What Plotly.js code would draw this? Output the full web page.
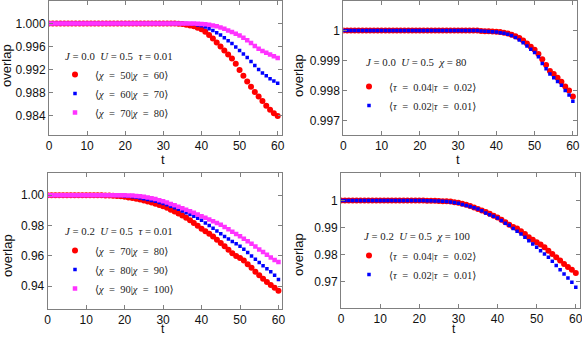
<!DOCTYPE html>
<html>
<head>
<meta charset="utf-8">
<script src="https://cdn.plot.ly/plotly-3.0.1.min.js"></script>
<style>
  html, body { margin: 0; padding: 0; background: #fff; }
  #chart { width: 582px; height: 337px; }
</style>
</head>
<body>
<div id="chart"></div>
<script>
// time steps
const t = [0, 1, 2, 3, 4, 5, 6, 7, 8, 9, 10, 11, 12, 13, 14, 15, 16, 17, 18, 19, 20,
  21, 22, 23, 24, 25, 26, 27, 28, 29, 30, 31, 32, 33, 34, 35, 36, 37, 38, 39, 40,
  41, 42, 43, 44, 45, 46, 47, 48, 49, 50, 51, 52, 53, 54, 55, 56, 57, 58, 59, 60];

// panel 1: J=0.0 U=0.5 tau=0.01
const p1Chi50 = [1, 1, 1, 1, 1, 1, 1, 1, 1, 1, 1, 1, 1, 1, 1, 1, 1, 1, 1, 1, 1,
  1, 1, 1, 1, 1, 1, 1, 1, 1, 1, 1, 1, 1, 0.99995, 0.9999, 0.9998, 0.99965, 0.9995, 0.99925, 0.9990,
  0.99855, 0.9980, 0.9974, 0.9967, 0.9960, 0.9953, 0.9946, 0.9939, 0.9930, 0.9919,
  0.9909, 0.9899, 0.9890, 0.9881, 0.9873, 0.9865, 0.9857, 0.9850, 0.9844, 0.9839];
const p1Chi60 = [1, 1, 1, 1, 1, 1, 1, 1, 1, 1, 1, 1, 1, 1, 1, 1, 1, 1, 1, 1, 1,
  1, 1, 1, 1, 1, 1, 1, 1, 1, 1, 1, 1, 1, 1, 1, 1, 0.99995, 0.9999, 0.99975, 0.9996,
  0.9994, 0.9991, 0.9988, 0.9984, 0.9980, 0.9975, 0.9970, 0.9965, 0.9959, 0.9953,
  0.9947, 0.9941, 0.9934, 0.9927, 0.9920, 0.9914, 0.9909, 0.9904, 0.9900, 0.9896];
const p1Chi70 = [1, 1, 1, 1, 1, 1, 1, 1, 1, 1, 1, 1, 1, 1, 1, 1, 1, 1, 1, 1, 1,
  1, 1, 1, 1, 1, 1, 1, 1, 1, 1, 1, 1, 1, 1, 1, 1, 1, 1, 0.99995, 0.9999,
  0.99985, 0.9998, 0.99965, 0.9995, 0.9993, 0.9991, 0.9988, 0.9985, 0.9982, 0.9979,
  0.9975, 0.9971, 0.9966, 0.9961, 0.9956, 0.9952, 0.9949, 0.9946, 0.9943, 0.9940];

// panel 2: J=0.0 U=0.5 chi=80
const p2Tau04 = [1, 1, 1, 1, 1, 1, 1, 1, 1, 1, 1, 1, 1, 1, 1, 1, 1, 1, 1, 1, 1,
  1, 1, 1, 1, 1, 1, 1, 1, 1, 1, 1, 1, 1, 1, 1, 0.99999, 0.99998, 0.99998, 0.99997, 0.99996,
  0.99995, 0.99993, 0.9999, 0.99986, 0.99981, 0.99975, 0.99967, 0.99957, 0.99946, 0.99936,
  0.99922, 0.99905, 0.99886, 0.99866, 0.99856, 0.99843, 0.9983, 0.99814, 0.99801, 0.99781];
const p2Tau02 = [1, 1, 1, 1, 1, 1, 1, 1, 1, 1, 1, 1, 1, 1, 1, 1, 1, 1, 1, 1, 1,
  1, 1, 1, 1, 1, 1, 1, 1, 1, 1, 1, 1, 1, 1, 1, 0.99999, 0.99998, 0.99997, 0.99996, 0.99995,
  0.99993, 0.99991, 0.99988, 0.99984, 0.99977, 0.99969, 0.9996, 0.99949, 0.99938, 0.99927,
  0.99913, 0.99891, 0.99873, 0.99856, 0.99843, 0.99831, 0.99818, 0.99801, 0.99786, 0.99765];

// panel 3: J=0.2 U=0.5 tau=0.01
const p3Chi70 = [1, 1, 1, 1, 1, 1, 1, 1, 1, 1, 1, 1, 1, 1, 1, 0.9999, 0.9998, 0.9997, 0.9995, 0.9993, 0.9990,
  0.9986, 0.9982, 0.9977, 0.9972, 0.9966, 0.9959, 0.9952, 0.9944, 0.9936, 0.9928,
  0.9917, 0.9904, 0.9893, 0.9880, 0.9866, 0.9852, 0.9836, 0.9818, 0.9799, 0.9780,
  0.9763, 0.9746, 0.9729, 0.9707, 0.9686, 0.9664, 0.9640, 0.9617, 0.9600, 0.9587,
  0.9570, 0.9545, 0.9522, 0.9495, 0.9472, 0.9450, 0.9428, 0.9408, 0.9390, 0.9371];
const p3Chi80 = [1, 1, 1, 1, 1, 1, 1, 1, 1, 1, 1, 1, 1, 1, 1, 1, 1, 1, 0.9999, 0.9998, 0.9996,
  0.9994, 0.9991, 0.9987, 0.9982, 0.9977, 0.9972, 0.9966, 0.9960, 0.9953, 0.9946,
  0.9937, 0.9928, 0.9918, 0.9908, 0.9897, 0.9885, 0.9873, 0.9861, 0.9848, 0.9835,
  0.9818, 0.9801, 0.9783, 0.9765, 0.9746, 0.9729, 0.9712, 0.9696, 0.9680, 0.9664,
  0.9644, 0.9622, 0.9600, 0.9578, 0.9556, 0.9535, 0.9515, 0.9495, 0.9472, 0.9444];
const p3Chi90 = [1, 1, 1, 1, 1, 1, 1, 1, 1, 1, 1, 1, 1, 1, 1, 1, 1, 1, 1, 1, 1,
  0.9999, 0.9998, 0.9996, 0.9993, 0.9990, 0.9986, 0.9981, 0.9975, 0.9968, 0.9960,
  0.9952, 0.9943, 0.9934, 0.9924, 0.9914, 0.9904, 0.9894, 0.9884, 0.9873, 0.9862,
  0.9852, 0.9841, 0.9829, 0.9818, 0.9806, 0.9791, 0.9776, 0.9760, 0.9745, 0.9730,
  0.9714, 0.9697, 0.9680, 0.9662, 0.9643, 0.9626, 0.9608, 0.9590, 0.9574, 0.9560];

// panel 4: J=0.2 U=0.5 chi=100
const p4Tau04 = [1, 1, 1, 1, 1, 1, 1, 1, 1, 1, 1, 1, 1, 1, 1, 1, 1, 0.99999, 0.99998, 0.99997, 0.99995,
  0.99993, 0.9999, 0.99987, 0.99983, 0.99978, 0.99972, 0.99965, 0.99955, 0.99935, 0.9991,
  0.9988, 0.9984, 0.9979, 0.9974, 0.9968, 0.9963, 0.9957, 0.9951, 0.9943, 0.9937,
  0.9929, 0.9919, 0.9910, 0.9902, 0.9896, 0.9886, 0.9876, 0.9864, 0.9855, 0.9846,
  0.9837, 0.9827, 0.9814, 0.9802, 0.9790, 0.9778, 0.9765, 0.9754, 0.9744, 0.9732];
const p4Tau02 = [1, 1, 1, 1, 1, 1, 1, 1, 1, 1, 1, 1, 1, 1, 1, 1, 1, 0.99999, 0.99998, 0.99996, 0.99994,
  0.99991, 0.99988, 0.99984, 0.99979, 0.99973, 0.99965, 0.99955, 0.9994, 0.9992, 0.9989,
  0.9985, 0.9981, 0.9977, 0.9973, 0.9968, 0.9962, 0.9953, 0.9947, 0.9941, 0.9935,
  0.9926, 0.9916, 0.9908, 0.9896, 0.9886, 0.9876, 0.9864, 0.9851, 0.9839, 0.9827,
  0.9814, 0.9802, 0.9790, 0.9775, 0.9760, 0.9744, 0.9728, 0.9714, 0.9698, 0.9680];

const RED = "#ff0000", BLUE = "#0000ff", MAGENTA = "#ff33ff";
const W = 582, H = 337;
const eq = "\u2002=\u2002";

function pts(y, name, color, symbol, size, xa, ya, legend) {
    return {
        x: t, y: y, name: name, type: "scatter", mode: "markers",
        xaxis: xa, yaxis: ya, legend: legend,
        marker: { color: color, symbol: symbol, size: size }
    };
}
function chiName(a, b) { return "⟨<i>χ</i>" + eq + a + "|<i>χ</i>" + eq + b + "⟩"; }
function tauName(a, b) { return "⟨<i>τ</i>" + eq + a + "|<i>τ</i>" + eq + b + "⟩"; }

const data = [
    pts(p1Chi50, chiName(50, 60), RED, "circle", 6, "x", "y", "legend"),
    pts(p1Chi60, chiName(60, 70), BLUE, "square", 3.5, "x", "y", "legend"),
    pts(p1Chi70, chiName(70, 80), MAGENTA, "square", 4.5, "x", "y", "legend"),
    pts(p2Tau04, tauName("0.04", "0.02"), RED, "circle", 6, "x2", "y2", "legend2"),
    pts(p2Tau02, tauName("0.02", "0.01"), BLUE, "square", 3.5, "x2", "y2", "legend2"),
    pts(p3Chi70, chiName(70, 80), RED, "circle", 6, "x3", "y3", "legend3"),
    pts(p3Chi80, chiName(80, 90), BLUE, "square", 3.5, "x3", "y3", "legend3"),
    pts(p3Chi90, chiName(90, 100), MAGENTA, "square", 4.5, "x3", "y3", "legend3"),
    pts(p4Tau04, tauName("0.04", "0.02"), RED, "circle", 6, "x4", "y4", "legend4"),
    pts(p4Tau02, tauName("0.02", "0.01"), BLUE, "square", 3.5, "x4", "y4", "legend4")
];

const tickFont = { family: "Liberation Sans, Arial, sans-serif", size: 12, color: "#111" };
const legFont = { family: "Liberation Serif, DejaVu Serif, serif", size: 10.5, color: "#222" };

function xAxis(x0, x1, anchor) {
    return {
        domain: [x0 / W, x1 / W], anchor: anchor, range: [0, 61],
        tickvals: [0, 10, 20, 30, 40, 50, 60], ticks: "inside", ticklen: 4,
        tickcolor: "#808080", showline: true, linecolor: "#808080", linewidth: 1,
        mirror: "allticks", showgrid: false, zeroline: false, tickfont: tickFont,
        ticklabeloverflow: "allow"
    };
}
function yAxis(top, bottom, anchor, range, vals, fmt) {
    return {
        domain: [1 - bottom / H, 1 - top / H], anchor: anchor, range: range,
        tickvals: vals, tickformat: fmt, ticks: "inside", ticklen: 4,
        tickcolor: "#808080", showline: true, linecolor: "#808080", linewidth: 1,
        mirror: "allticks", showgrid: false, zeroline: false, tickfont: tickFont,
        ticklabeloverflow: "allow"
    };
}
function legendAt(px, py) {
    return {
        x: px / W, y: 1 - py / H, xanchor: "left", yanchor: "top",
        bgcolor: "rgba(0,0,0,0)", font: legFont, itemclick: false
    };
}

const sp = "\u00a0\u00a0";
const layout = {
    width: W, height: H,
    margin: { l: 0, r: 0, t: 0, b: 0 },
    paper_bgcolor: "#fff", plot_bgcolor: "#fff",
    showlegend: true,
    xaxis: xAxis(49, 281.5, "y"),
    yaxis: yAxis(0.5, 135, "x", [0.9806, 1.004], [0.984, 0.988, 0.992, 0.996, 1.0], ".3f"),
    xaxis2: xAxis(343.3, 576.7, "y2"),
    yaxis2: yAxis(0.5, 135, "x2", [0.99653, 1.001], [0.997, 0.998, 0.999, 1], ""),
    xaxis3: xAxis(47.7, 282.3, "y3"),
    yaxis3: yAxis(173.3, 308.7, "x3", [0.9252, 1.0145], [0.94, 0.96, 0.98, 1.0], ".2f"),
    xaxis4: xAxis(341, 579.7, "y4"),
    yaxis4: yAxis(173, 308, "x4", [0.9603, 1.0101], [0.97, 0.98, 0.99, 1], ""),
    legend: legendAt(55, 60),
    legend2: legendAt(349, 72),
    legend3: legendAt(55, 236),
    legend4: legendAt(349, 241),
    annotations: []
};

// panel headers (parameters of each run)
const headers = [
    { text: "<i>J</i> = 0.0" + sp + "<i>U</i> = 0.5" + sp + "<i>τ</i> = 0.01", x: 63, y: 56 },
    { text: "<i>J</i> = 0.0" + sp + "<i>U</i> = 0.5" + sp + "<i>χ</i> = 80", x: 364, y: 62 },
    { text: "<i>J</i> = 0.2" + sp + "<i>U</i> = 0.5" + sp + "<i>τ</i> = 0.01", x: 63, y: 231 },
    { text: "<i>J</i> = 0.2" + sp + "<i>U</i> = 0.5" + sp + "<i>χ</i> = 100", x: 362, y: 236 }
];
headers.forEach(h => {
    layout.annotations.push({
        text: h.text, xref: "paper", yref: "paper", x: h.x / W, y: 1 - h.y / H,
        xanchor: "left", yanchor: "middle", showarrow: false,
        font: { family: "Liberation Serif, DejaVu Serif, serif", size: 10.8, color: "#222" }
    });
});

// axis titles as plain text labels
const axisLabels = [
    { text: "overlap", x: 6, y: 66, rot: -90, size: 13, anchor: "middle" },
    { text: "overlap", x: 298, y: 76, rot: -90, size: 13, anchor: "middle" },
    { text: "overlap", x: 7, y: 256, rot: -90, size: 13, anchor: "middle" },
    { text: "overlap", x: 298, y: 255, rot: -90, size: 13, anchor: "middle" },
    { text: "t", x: 163, y: 159, rot: 0, size: 13, anchor: "middle" },
    { text: "t", x: 458, y: 159, rot: 0, size: 13, anchor: "middle" },
    { text: "t", x: 163, y: 337, rot: 0, size: 12, anchor: "bottom" },
    { text: "t", x: 454, y: 337, rot: 0, size: 12, anchor: "bottom" }
];
axisLabels.forEach(a => {
    layout.annotations.push({
        text: a.text, xref: "paper", yref: "paper", x: a.x / W, y: 1 - a.y / H,
        xanchor: "center", yanchor: a.anchor, textangle: a.rot, showarrow: false,
        borderpad: 0,
        font: { family: "Liberation Sans, Arial, sans-serif", size: a.size, color: "#111" }
    });
});

Plotly.newPlot("chart", data, layout, { staticPlot: true });
</script>
</body>
</html>
